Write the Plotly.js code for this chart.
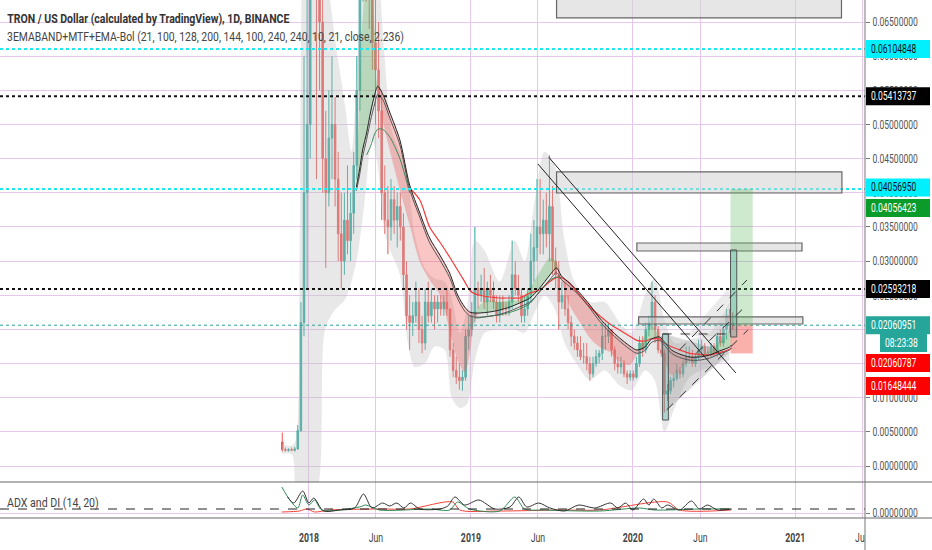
<!DOCTYPE html>
<html><head><meta charset="utf-8">
<script src="https://cdn.plot.ly/plotly-3.0.1.min.js"></script>
<style>html,body{margin:0;padding:0;background:#fff}#chart{width:932px;height:550px}</style>
</head><body><div id="chart"></div>
<script>
// ---------- weekly candles (TRX/USD) ----------
const firstWeek = '2017-11-02';
const openP = [.0035,.0024,.0023,.0024,.0023,.0025,.0052,.0210,.0400,.0500,.1200,.0900,.0700,.0650,.0450,.0400,.0480,.0500,.0420,.0340,.0300,.0360,.0330,.0370,.0440,.0550,.0720,.0850,.0750,.0720,.0620,.0580,.0520,.0400,.0360,.0350,.0390,.0360,.0380,.0350,.0280,.0220,.0210,.0220,.0240,.0200,.0180,.0240,.0220,.0240,.0230,.0240,.0230,.0240,.0230,.0170,.0140,.0130,.0125,.0130,.0190,.0200,.0220,.0260,.0250,.0260,.0240,.0260,.0250,.0240,.0220,.0240,.0230,.0230,.0240,.0280,.0260,.0250,.0220,.0230,.0250,.0300,.0320,.0350,.0340,.0360,.0340,.0380,.0300,.0280,.0240,.0250,.0230,.0210,.0190,.0180,.0170,.0160,.0160,.0150,.0135,.0150,.0160,.0165,.0190,.0190,.0200,.0170,.0150,.0145,.0150,.0135,.0130,.0135,.0130,.0150,.0180,.0170,.0200,.0210,.0240,.0200,.0170,.0165,.0105,.0110,.0125,.0128,.0140,.0135,.0150,.0160,.0160,.0150,.0160,.0170,.0175,.0165,.0165,.0175,.0165,.0190,.0180,.0200,.0220,.0210];
const highP = [.0049,.0027,.0026,.0027,.0028,.0060,.0240,.0600,.0950,.2300,.1800,.1100,.0850,.0750,.0520,.0550,.0600,.0540,.0460,.0400,.0400,.0440,.0400,.0460,.0600,.0800,.0950,.0900,.0820,.0780,.0720,.0650,.0550,.0440,.0410,.0420,.0410,.0400,.0400,.0370,.0300,.0250,.0240,.0270,.0260,.0220,.0260,.0270,.0260,.0250,.0250,.0250,.0250,.0260,.0230,.0180,.0160,.0150,.0140,.0200,.0220,.0240,.0350,.0270,.0280,.0290,.0270,.0280,.0270,.0250,.0250,.0250,.0240,.0250,.0330,.0300,.0280,.0260,.0250,.0260,.0340,.0360,.0420,.0420,.0390,.0400,.0455,.0410,.0320,.0300,.0270,.0270,.0250,.0220,.0200,.0190,.0190,.0180,.0180,.0160,.0160,.0170,.0170,.0210,.0210,.0210,.0200,.0175,.0160,.0160,.0155,.0140,.0140,.0140,.0160,.0190,.0190,.0210,.0220,.0270,.0250,.0205,.0190,.0170,.0120,.0130,.0135,.0150,.0145,.0155,.0175,.0175,.0170,.0165,.0185,.0185,.0180,.0175,.0180,.0180,.0195,.0200,.0205,.0230,.0230,.0225];
const lowP = [.0021,.0021,.0021,.0022,.0021,.0024,.0050,.0190,.0260,.0450,.0800,.0420,.0550,.0400,.0290,.0380,.0420,.0380,.0300,.0260,.0280,.0310,.0300,.0340,.0420,.0520,.0680,.0680,.0640,.0580,.0500,.0480,.0360,.0340,.0310,.0330,.0340,.0320,.0330,.0260,.0200,.0170,.0190,.0210,.0180,.0165,.0170,.0210,.0210,.0200,.0210,.0220,.0220,.0220,.0160,.0130,.0120,.0112,.0110,.0125,.0170,.0190,.0210,.0230,.0240,.0230,.0220,.0240,.0230,.0210,.0210,.0220,.0220,.0220,.0230,.0250,.0240,.0210,.0210,.0220,.0240,.0270,.0300,.0310,.0310,.0320,.0300,.0280,.0260,.0200,.0230,.0220,.0200,.0175,.0170,.0160,.0155,.0150,.0140,.0125,.0130,.0145,.0150,.0155,.0170,.0180,.0160,.0140,.0135,.0135,.0130,.0120,.0125,.0125,.0128,.0145,.0160,.0165,.0190,.0200,.0180,.0165,.0160,.0078,.0095,.0105,.0115,.0125,.0128,.0130,.0145,.0150,.0145,.0145,.0155,.0160,.0160,.0155,.0160,.0160,.0160,.0175,.0175,.0185,.0195,.0200];
const closeP = [.0024,.0023,.0024,.0023,.0025,.0052,.0210,.0400,.0500,.1200,.0900,.0700,.0650,.0450,.0400,.0480,.0500,.0420,.0340,.0300,.0360,.0330,.0370,.0440,.0550,.0720,.0850,.0750,.0720,.0620,.0580,.0520,.0400,.0360,.0350,.0390,.0360,.0380,.0350,.0280,.0220,.0210,.0220,.0240,.0200,.0180,.0240,.0220,.0240,.0230,.0240,.0230,.0240,.0230,.0170,.0140,.0130,.0125,.0130,.0190,.0200,.0220,.0260,.0250,.0260,.0240,.0260,.0250,.0240,.0220,.0240,.0230,.0230,.0240,.0280,.0260,.0250,.0220,.0230,.0250,.0300,.0320,.0350,.0340,.0360,.0340,.0380,.0300,.0280,.0240,.0250,.0230,.0210,.0190,.0180,.0170,.0160,.0160,.0150,.0135,.0150,.0160,.0165,.0190,.0190,.0200,.0170,.0150,.0145,.0150,.0135,.0130,.0135,.0130,.0150,.0180,.0170,.0200,.0210,.0240,.0200,.0170,.0165,.0105,.0110,.0125,.0128,.0140,.0135,.0150,.0160,.0160,.0150,.0160,.0170,.0175,.0165,.0165,.0175,.0165,.0190,.0180,.0200,.0220,.0210,.0206];

// ---------- EMA band indicator ----------
const indDates = ['2018-03-23','2018-04-18','2018-04-25','2018-05-02','2018-05-11','2018-05-20','2018-05-29','2018-06-05','2018-06-16','2018-07-02','2018-07-25','2018-08-16','2018-09-08','2018-09-30','2018-10-23','2018-11-14','2018-12-02','2018-12-18','2018-12-29','2019-01-10','2019-01-21','2019-02-12','2019-03-07','2019-03-30','2019-04-21','2019-05-14','2019-06-05','2019-06-28','2019-07-13','2019-07-24','2019-08-11','2019-09-03','2019-09-26','2019-10-18','2019-11-10','2019-12-02','2019-12-25','2020-01-10','2020-01-28','2020-02-12','2020-03-01','2020-03-12','2020-03-28','2020-04-15','2020-05-08','2020-05-30','2020-06-22','2020-07-14','2020-08-06','2020-08-10'];
const emaA = [null,.04085,.04334,.04627,.04876,.05183,.05430,.05560,.05450,.05183,.04773,.04114,.03704,.03338,.03089,.02826,.02504,.02328,.02255,.02240,.02240,.02255,.02284,.02328,.02387,.02460,.02606,.02796,.02899,.02782,.02679,.02533,.02357,.02167,.02006,.01874,.01757,.01698,.01742,.01859,.01889,.01816,.01698,.01640,.01596,.01596,.01625,.01684,.01742,.01772];
const emaB = [null,.0403,.0425,.0452,.0478,.0506,.0530,.0544,.0537,.0510,.0470,.0405,.0364,.0327,.0302,.0276,.0245,.0227,.0220,.0218,.0218,.0219,.0222,.0227,.0233,.0240,.0255,.0273,.0283,.0273,.0263,.0249,.0231,.0212,.0196,.0183,.0171,.0165,.0169,.0181,.0184,.0177,.0165,.0159,.0155,.0155,.0158,.0164,.0170,.0173];
const emaFast = [null,.04114,.05359,.06530,.07116,.07042,.06384,.05560,.05066,.04627,.04041,.03529,.02987,.02723,.02504,.01991,.01552,.01376,.01625,.02138,.02357,.02430,.02401,.02430,.02430,.02606,.02840,.03045,.02987,.02723,.02357,.02108,.01874,.01742,.01669,.01523,.01479,.01625,.01918,.02064,.01845,.01552,.01332,.01406,.01552,.01625,.01698,.01816,.01991,.02020];
const emaSlow = [null,null,null,null,null,null,null,null,null,null,null,.04070,.03895,.03499,.03280,.03060,.02870,.02700,.02577,.02520,.02500,.02474,.02460,.02460,.02460,.02533,.02577,.02700,.02760,.02760,.02680,.02500,.02328,.02200,.02080,.01990,.01900,.01840,.01830,.01860,.01860,.01800,.01745,.01700,.01650,.01635,.01625,.01660,.01710,.01728];
const emaGreen = [null,null,null,null,.04553,.04680,.04860,.04930,.04930,.04820,.04500,.04000,null,null,null,null,null,null,null,.02167,.02170,.02196,.02215,.02250,.02299,.02380,.02560,.02720,.02767,.02740,null,null,null,null,null,null,null,null,null,null,null,null,null,null,null,null,null,null,null,null];

// Bollinger-style cloud
const cloudDates = ['2017-11-01','2017-11-24','2017-12-03','2017-12-11','2017-12-18','2018-01-03','2018-01-21','2018-02-06','2018-02-28','2018-03-23','2018-04-07','2018-04-21','2018-05-07','2018-05-23','2018-06-05','2018-06-21','2018-07-07','2018-07-25','2018-08-12','2018-08-27','2018-09-19','2018-10-11','2018-11-03','2018-11-19','2018-12-07','2018-12-23','2019-01-10','2019-02-01','2019-03-07','2019-04-10','2019-05-02','2019-05-25','2019-06-16','2019-07-09','2019-07-31','2019-08-22','2019-09-26','2019-10-30','2019-12-02','2019-12-29','2020-01-28','2020-02-19','2020-03-12','2020-04-04','2020-05-08','2020-06-22','2020-08-06'];
const cloudUp = [.0032,.0030,.0040,.0300,.0800,.1000,.0900,.0750,.0630,.0530,.0460,.0600,.0850,.0850,.0750,.0595,.0490,.0460,.0420,.0340,.0290,.0275,.0270,.0245,.0195,.0230,.0330,.0315,.0270,.0330,.0300,.0390,.0460,.0440,.0330,.0270,.0240,.0240,.0210,.0195,.0250,.0275,.0215,.0180,.0185,.0195,.0240];
const cloudLo = [.0018,.0017,-.0040,-.0040,-.0040,-.0040,-.0030,.0199,.0228,.0243,.0270,.0310,.0390,.0480,.0440,.0340,.0310,.0280,.0180,.0145,.0150,.0175,.0170,.0100,.0085,.0090,.0155,.0195,.0200,.0200,.0195,.0225,.0250,.0230,.0180,.0155,.0126,.0140,.0118,.0111,.0140,.0126,.0050,.0085,.0130,.0145,.0155];

// ---------- ADX and DI (14, 20) ----------
const adxDates = ['2017-11-14','2017-11-28','2017-12-18','2018-01-01','2018-01-12','2018-02-03','2018-03-11','2018-04-14','2018-05-04','2018-05-23','2018-06-16','2018-07-02','2018-07-18','2018-08-03','2018-08-18','2018-09-08','2018-10-23','2018-11-10','2018-11-26','2018-12-18','2019-01-19','2019-02-24','2019-03-30','2019-04-19','2019-05-07','2019-06-03','2019-06-28','2019-07-31','2019-09-01','2019-10-07','2019-11-12','2019-11-28','2019-12-16','2020-01-01','2020-01-25','2020-02-06','2020-02-17','2020-03-06','2020-03-19','2020-04-15','2020-05-12','2020-05-30','2020-06-17','2020-07-10','2020-08-10'];
const adxVals = [80,50,110,50,75,10,15,25,95,25,50,35,50,25,50,20,20,35,80,40,65,20,30,80,30,50,25,10,40,25,50,25,50,15,70,40,70,25,40,15,60,20,40,15,20];
const diPlusDates = ['2017-11-01','2017-11-19','2017-12-07','2017-12-18','2018-01-01','2018-01-14','2018-01-30','2018-04-25','2018-05-09','2018-06-09','2018-09-30','2018-11-14','2018-12-02','2018-12-29','2019-03-07','2019-04-10','2019-05-02','2019-06-16','2019-10-18','2020-01-16','2020-02-19','2020-05-30','2020-08-10'];
const diPlusVals = [130,65,25,90,40,65,15,30,40,15,20,15,55,20,10,80,20,15,10,25,15,20,20];
const diMinusDates = ['2017-11-01','2017-12-11','2017-12-27','2018-01-14','2018-02-17','2018-06-09','2018-08-16','2018-11-21','2018-12-07','2019-03-07','2019-07-20','2019-10-18','2020-03-19','2020-04-15','2020-08-10'];
const diMinusVals = [5,10,20,5,15,20,20,55,15,10,15,15,55,15,15];
const adxLevel = 20;

// ---------- price levels / labels ----------
const levelVals = [0.06104848, 0.05413737, 0.04056950, 0.02593218, 0.02060951];
const levelKinds = ['cyan','black','cyan','black','teal'];
const lastPrice = 0.02060951, takeProfit = 0.04056423, stopLoss = 0.01648444, entryAlt = 0.02060787;
const countdown = '08:23:38';

// ---------- x axis ticks ----------
const xTickVals = ['2018-01-01','2018-06-01','2019-01-01','2019-06-01','2020-01-01','2020-06-01','2021-01-01','2021-06-01'];
const xTickText = ['<b>2018</b>','Jun','<b>2019</b>','Jun','<b>2020</b>','Jun','<b>2021</b>','Jun'];
const yTickVals = [0,0.005,0.01,0.015,0.02,0.025,0.03,0.035,0.04,0.045,0.05,0.055,0.06,0.065];

// ---------- drawings ----------
const boxes = [
  {x0:'2019-07-13', x1:'2021-04-15', y0:0.0656, y1:0.0750},
  {x0:'2019-07-13', x1:'2021-04-16', y0:0.03997, y1:0.04305},
  {x0:'2020-01-10', x1:'2021-01-16', y0:0.03148, y1:0.03265},
  {x0:'2020-01-14', x1:'2021-01-18', y0:0.02079, y1:0.02182}
];
const tealBoxes = [
  {x0:'2020-08-08', x1:'2020-08-22', y0:0.01889, y1:0.03163},
  {x0:'2020-03-08', x1:'2020-03-21', y0:0.00673, y1:0.01933}
];
const posX = ['2020-08-08','2020-09-27'];
const channelLines = [
  {x0:'2019-06-01', y0:0.04422, x1:'2020-07-26', y1:0.01259},
  {x0:'2019-06-25', y0:0.04524, x1:'2020-08-20', y1:0.01362}
];
const dashLines = [
  {x0:'2020-03-08', y0:0.01933, x1:'2020-08-06', y1:0.01933},
  {x0:'2020-04-15', y0:0.01698, x1:'2020-09-14', y1:0.02723},
  {x0:'2020-05-23', y0:0.01654, x1:'2020-09-14', y1:0.02357},
  {x0:'2020-03-17', y0:0.00820, x1:'2020-09-16', y1:0.01991}
];
const tri1X = ['2020-03-19','2020-03-19','2020-08-06','2020-03-19'];
const tri1Y = [0.0192, 0.0082, 0.0166, 0.0192];
const tri2X = ['2020-05-01','2020-08-06','2020-08-06','2020-05-01'];
const tri2Y = [0.0190, 0.0262, 0.0190, 0.0190];

// ---------- build ----------
function weekDates(start, n){
  const out = []; const t0 = Date.parse(start + 'T00:00:00Z');
  for (let i = 0; i < n; i++) out.push(new Date(t0 + i*7*86400000).toISOString().slice(0,10));
  return out;
}
const candleDates = weekDates(firstWeek, closeP.length);
const pinkEdge = emaFast.map((f,i)=> (f==null||emaA[i]==null)? null : Math.min(f, emaA[i]));
const greenEdge = emaFast.map((f,i)=> (f==null||emaA[i]==null)? null : Math.max(f, emaA[i]));

const FONT = 'Roboto, sans-serif';
const SP = {shape:'spline', smoothing:0.8};
const traces = [
  {x:cloudDates, y:cloudLo, mode:'lines', line:{width:0, ...SP}, hoverinfo:'skip'},
  {x:cloudDates, y:cloudUp, mode:'lines', line:{width:0, ...SP}, fill:'tonexty', fillcolor:'rgba(190,190,190,0.36)', hoverinfo:'skip'},
  {x:indDates, y:emaA, mode:'lines', line:{width:0, ...SP}, hoverinfo:'skip'},
  {x:indDates, y:pinkEdge, mode:'lines', line:{width:0, ...SP}, fill:'tonexty', fillcolor:'rgba(239,83,80,0.33)', hoverinfo:'skip'},
  {x:indDates, y:emaA, mode:'lines', line:{width:0, ...SP}, hoverinfo:'skip'},
  {x:indDates, y:greenEdge, mode:'lines', line:{width:0, ...SP}, fill:'tonexty', fillcolor:'rgba(76,175,80,0.30)', hoverinfo:'skip'},
  {type:'candlestick', x:candleDates, open:openP, high:highP, low:lowP, close:closeP, whiskerwidth:0,
   increasing:{line:{color:'#26a69a', width:1}, fillcolor:'#26a69a'},
   decreasing:{line:{color:'#ef5350', width:1}, fillcolor:'#ef5350'}, hoverinfo:'skip'},
  {x:tri1X, y:tri1Y, mode:'lines', fill:'toself', fillcolor:'rgba(150,150,150,0.35)', line:{width:0}, hoverinfo:'skip'},
  {x:tri2X, y:tri2Y, mode:'lines', fill:'toself', fillcolor:'rgba(190,190,190,0.30)', line:{width:0}, hoverinfo:'skip'},
  {x:indDates, y:emaSlow, mode:'lines', line:{color:'#f23b3b', width:1.2, ...SP}, hoverinfo:'skip'},
  {x:indDates, y:emaGreen, mode:'lines', line:{color:'#3d8b5c', width:1, ...SP}, hoverinfo:'skip'},
  {x:indDates, y:emaB, mode:'lines', line:{color:'#555', width:1, ...SP}, hoverinfo:'skip'},
  {x:indDates, y:emaA, mode:'lines', line:{color:'#222', width:1, ...SP}, hoverinfo:'skip'},
  {x:diMinusDates, y:diMinusVals, yaxis:'y2', mode:'lines', line:{color:'#f44336', width:1, ...SP}, hoverinfo:'skip'},
  {x:diPlusDates, y:diPlusVals, yaxis:'y2', mode:'lines', line:{color:'#2e8b57', width:1, ...SP}, hoverinfo:'skip'},
  {x:adxDates, y:adxVals, yaxis:'y2', mode:'lines', line:{color:'#333', width:1, ...SP}, hoverinfo:'skip'}
];

const YR = [-0.002343, 0.068228];
const FR = 932/865, PB = -32/518, SEP = 36/518, PXV = (YR[1]-YR[0])/482;
const lvlColor = {cyan:'#1de9f0', black:'#111', teal:'#26a69a'};
const shapes = [];
levelVals.forEach((v,i)=>{
  const k = levelKinds[i];
  shapes.push({type:'line', xref:'paper', x0:0, x1:1, yref:'y', y0:v, y1:v,
    line:{color:lvlColor[k], width:k==='teal'?1:2, dash:'dot'}});
});
boxes.forEach(b=>shapes.push({type:'rect', xref:'x', yref:'y', ...b, fillcolor:'rgba(205,205,205,0.5)', line:{color:'#666', width:1.2}}));
shapes.push({type:'rect', xref:'x', yref:'y', x0:posX[0], x1:posX[1], y0:lastPrice, y1:takeProfit, fillcolor:'rgba(76,175,80,0.28)', line:{width:0}});
shapes.push({type:'rect', xref:'x', yref:'y', x0:posX[0], x1:posX[1], y0:stopLoss, y1:lastPrice, fillcolor:'rgba(244,67,54,0.42)', line:{width:0}});
tealBoxes.forEach(b=>shapes.push({type:'rect', xref:'x', yref:'y', ...b, fillcolor:'rgba(38,166,154,0.30)', line:{color:'#555', width:1}}));
channelLines.forEach(l=>shapes.push({type:'line', xref:'x', yref:'y', ...l, line:{color:'#222', width:1}}));
dashLines.forEach(l=>shapes.push({type:'line', xref:'x', yref:'y', ...l, line:{color:'#333', width:1, dash:'dash'}}));
shapes.push({type:'line', xref:'paper', x0:0, x1:1, yref:'y2', y0:adxLevel, y1:adxLevel, line:{color:'#222', width:1, dash:'dash'}});
shapes.push({type:'rect', xref:'paper', x0:1, x1:FR, yref:'paper', y0:PB, y1:0, fillcolor:'#fff', line:{width:0}});
shapes.push({type:'line', xref:'paper', x0:0, x1:FR, yref:'paper', y0:SEP, y1:SEP, line:{color:'#666', width:1}});
shapes.push({type:'line', xref:'paper', x0:0, x1:FR, yref:'paper', y0:0, y1:0, line:{color:'#666', width:1}});
shapes.push({type:'line', xref:'paper', x0:1, x1:1, yref:'paper', y0:PB, y1:1, line:{color:'#777', width:1}});

// right-hand price labels: text, anchor value, background, text colour, box left/right (px right of plot edge)
const priceLabels = [
  {t:levelVals[0].toFixed(8), y:levelVals[0], bg:'#00f0ff', fg:'#111', a:1, b:65},
  {t:levelVals[1].toFixed(8), y:levelVals[1], bg:'#000000', fg:'#fff', a:1, b:65},
  {t:levelVals[2].toFixed(8), y:0.04078, bg:'#00f0ff', fg:'#111', a:1, b:65},
  {t:takeProfit.toFixed(8), y:0.03777, bg:'#0a9b2b', fg:'#fff', a:1, b:65},
  {t:levelVals[3].toFixed(8), y:levelVals[3], bg:'#000000', fg:'#fff', a:1, b:65},
  {t:lastPrice.toFixed(8), y:lastPrice, bg:'#26a69a', fg:'#fff', a:1, b:65},
  {t:countdown, y:0.01801, bg:'#26a69a', fg:'#fff', a:15, b:62},
  {t:entryAlt.toFixed(8), y:0.01508, bg:'#ff0000', fg:'#fff', a:1, b:65},
  {t:stopLoss.toFixed(8), y:0.01171, bg:'#ff0000', fg:'#fff', a:1, b:65}
];
const annotations = [];
const annSquish = [];
function ttl(text, ypx, size, color, s){
  annotations.push({xref:'paper', yref:'paper', x:0, xshift:5, y:1-ypx/518, xanchor:'left', yanchor:'middle',
    showarrow:false, text:text, font:{family:FONT, size:size, color:color}});
  annSquish.push(s);
}
ttl('<b>TRON / US Dollar (calculated by TradingView), 1D, BINANCE</b>', 18, 13, '#333', 0.81);
ttl('3EMABAND+MTF+EMA-Bol (21, 100, 128, 200, 144, 100, 240, 240, 10, 21, close, 2.236)', 37, 13, '#444', 0.80);
ttl('ADX and DI (14, 20)', 502, 12.5, '#444', 0.85);
priceLabels.forEach(L=>{
  shapes.push({type:'rect', xref:'paper', x0:1+L.a/865, x1:1+L.b/865, yref:'y', y0:L.y-9*PXV, y1:L.y+9*PXV,
    fillcolor:L.bg, line:{width:0}});
  annotations.push({xref:'paper', x:1, xshift:L.a+3, xanchor:'left', yref:'y', y:L.y, yanchor:'middle',
    showarrow:false, text:L.t, font:{family:FONT, size:12.2, color:L.fg}});
  annSquish.push(0.7);
});

const layout = {
  width:932, height:550, margin:{l:0, r:67, t:0, b:32},
  paper_bgcolor:'#fff', plot_bgcolor:'#fff', showlegend:false,
  font:{family:FONT, size:12, color:'#555'},
  xaxis:{type:'date', range:['2016-02-05','2021-06-07'], anchor:'y2', tickvals:xTickVals, ticktext:xTickText,
    showgrid:true, gridcolor:'#e6c8ec', gridwidth:1, zeroline:false, showline:false,
    ticks:'outside', ticklen:8, tickcolor:'rgba(0,0,0,0)', tickfont:{family:FONT, size:12.5, color:'#444'},
    rangeslider:{visible:false}, fixedrange:true},
  yaxis:{domain:[SEP,1], range:YR, side:'right', tickvals:yTickVals,
    ticktext:yTickVals.map(v=>v.toFixed(8)), showgrid:true, gridcolor:'#e6c8ec', zeroline:false,
    ticks:'outside', ticklen:4, tickcolor:'#777', tickfont:{family:FONT, size:12.2, color:'#555'}, fixedrange:true},
  yaxis2:{domain:[0,SEP], range:[-25,155], side:'right', anchor:'x', tickvals:[0], ticktext:['0.00000000'],
    showgrid:true, gridcolor:'#e6c8ec', zeroline:false, ticks:'outside', ticklen:4, tickcolor:'#777',
    tickfont:{family:FONT, size:12.2, color:'#555'}, fixedrange:true},
  shapes:shapes, annotations:annotations
};

// the reference's lettering is horizontally condensed: squeeze each text around its anchor
function squeeze(t, s, ax){
  const tr = t.getAttribute('transform') || '';
  t.setAttribute('transform', (tr + ' translate(' + ax + ',0) scale(' + s + ',1) translate(' + (-ax) + ',0)').trim());
}
function condenseText(gd){
  gd.querySelectorAll('g.annotation').forEach(g=>{
    const s = annSquish[+g.getAttribute('data-index')] || 0.7;
    g.querySelectorAll('text').forEach(t=>squeeze(t, s, t.getBBox().x));
  });
  gd.querySelectorAll('svg text').forEach(t=>{
    if (t.closest('g.annotation')) return;
    squeeze(t, 0.7, parseFloat(t.getAttribute('x') || '0') || 0);
  });
}
Plotly.newPlot('chart', traces, layout, {staticPlot:true, displayModeBar:false}).then(condenseText);
</script></body></html>
